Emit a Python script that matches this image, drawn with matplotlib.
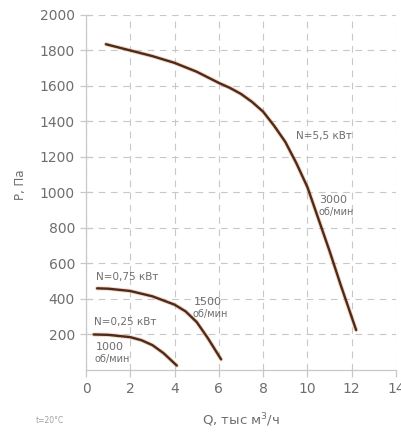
import matplotlib

matplotlib.use("Agg")
import matplotlib.pyplot as plt

# fan curves (Q in thousand m3/h, P in Pa)
q_3000 = [0.9, 2.0, 3.0, 4.0, 5.0, 6.0, 6.5, 7.0, 7.5, 8.0, 8.5, 9.0, 9.5, 10.0, 10.5, 11.0, 11.5, 12.2]
p_3000 = [1835, 1800, 1768, 1730, 1680, 1617, 1589, 1555, 1510, 1455, 1375, 1285, 1165, 1030, 850, 670, 480, 225]

q_1500 = [0.5, 1.0, 2.0, 3.0, 4.0, 4.5, 5.0, 5.5, 6.1]
p_1500 = [460, 458, 445, 415, 368, 330, 270, 180, 60]

q_1000 = [0.35, 1.0, 2.0, 2.5, 3.0, 3.5, 4.1]
p_1000 = [200, 198, 185, 168, 140, 95, 25]

x_ticks = [0, 2, 4, 6, 8, 10, 12, 14]
y_ticks = [200, 400, 600, 800, 1000, 1200, 1400, 1600, 1800, 2000]

CURVE = "#4e2a1c"
TEXT = "#6e6e6e"
GRID = "#c8c8c8"

fig = plt.figure(figsize=(4.01, 4.33), dpi=100)
ax = fig.add_axes([0.2145, 0.1455, 0.773, 0.82])

for q, p in [(q_3000, p_3000), (q_1500, p_1500), (q_1000, p_1000)]:
    ax.plot(q, p, color="#e0a070", lw=3.0, alpha=0.45, solid_capstyle="round", solid_joinstyle="round")
    ax.plot(q, p, color=CURVE, lw=1.7, solid_capstyle="round", solid_joinstyle="round")

ax.set_xlim(0, 14)
ax.set_ylim(0, 2000)
ax.set_xticks(x_ticks)
ax.set_yticks(y_ticks)
ax.grid(True, color=GRID, lw=0.8, linestyle=(0, (6, 5)))
ax.set_axisbelow(True)

for side in ["top", "right"]:
    ax.spines[side].set_visible(False)
for side in ["left", "bottom"]:
    ax.spines[side].set_color(GRID)
    ax.spines[side].set_linewidth(0.9)

ax.tick_params(axis="both", colors=GRID, labelcolor=TEXT, labelsize=10, length=5, width=0.9)
ax.tick_params(axis="y", direction="inout", length=9)

# curve labels
ax.text(9.5, 1320, "N=5,5 кВт", color=TEXT, fontsize=7.5, va="center")
ax.text(10.55, 960, "3000", color=TEXT, fontsize=8, va="center")
ax.text(10.5, 890, "об/мин", color=TEXT, fontsize=7, va="center")
ax.text(4.85, 385, "1500", color=TEXT, fontsize=8, va="center")
ax.text(4.8, 315, "об/мин", color=TEXT, fontsize=7, va="center")
ax.text(0.45, 525, "N=0,75 кВт", color=TEXT, fontsize=7.5, va="center")
ax.text(0.35, 272, "N=0,25 кВт", color=TEXT, fontsize=7.5, va="center")
ax.text(0.45, 130, "1000", color=TEXT, fontsize=8, va="center")
ax.text(0.4, 60, "об/мин", color=TEXT, fontsize=7, va="center")

fig.text(0.6, 0.03, "Q, тыс м$^3$/ч", color=TEXT, fontsize=9.5, ha="center", va="center")
fig.text(0.05, 0.573, "P, Па", color=TEXT, fontsize=8.5, rotation=90, ha="center", va="center")
fig.text(0.09, 0.03, "t=20°C", color="#a0a0a0", fontsize=5.5, va="center")

fig.savefig("out.png", dpi=100)
